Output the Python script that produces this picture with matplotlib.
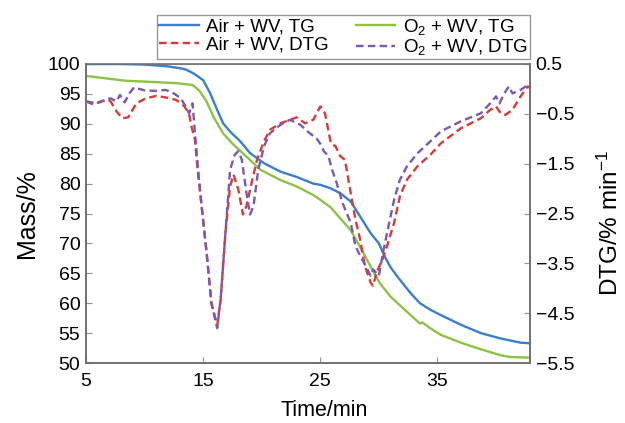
import matplotlib
matplotlib.use("Agg")
import matplotlib.pyplot as plt

plt.rcParams['font.family'] = ['Liberation Sans', 'DejaVu Sans']
plt.rcParams['mathtext.fontset'] = 'custom'
plt.rcParams['mathtext.rm'] = 'Liberation Sans'
plt.rcParams['mathtext.it'] = 'Liberation Sans:italic'
plt.rcParams['axes.unicode_minus'] = True

# ---- data ----
air_tg_t = [5.0, 8.0, 10.1, 12.0, 13.0, 13.5, 14.2, 15.0, 15.6, 16.2, 16.7, 17.3, 18.2, 19.0,
            20.2, 21.6, 23.0, 24.4, 25.0, 25.9, 26.7, 27.6, 28.4, 29.3, 30.0, 30.5, 31.0,
            31.6, 32.7, 33.5, 34.4, 35.3, 37.0, 38.7, 40.4, 42.1, 42.9]
air_tg = [100.0, 100.0, 99.9, 99.6, 99.3, 99.1, 98.4, 97.3, 95.1, 92.3, 90.1, 88.7, 87.0, 85.1,
          83.4, 82.0, 81.1, 80.0, 79.8, 79.2, 78.4, 77.0, 74.5, 71.7, 70.0, 67.8, 66.0,
          64.4, 61.7, 60.0, 58.9, 58.0, 56.4, 55.0, 54.1, 53.4, 53.3]

o2_tg_t = [5.0, 6.7, 8.4, 10.7, 12.7, 14.1, 14.7, 15.3, 15.9, 16.7, 17.6, 18.7, 19.9, 21.6,
           23.0, 24.4, 25.0, 25.9, 26.7, 27.6, 28.4, 29.3, 30.1, 31.0, 32.1, 33.0, 33.5,
           33.7, 34.4, 35.3, 37.0, 38.7, 40.4, 41.2, 42.9]
o2_tg = [98.0, 97.6, 97.2, 97.0, 96.8, 96.5, 95.5, 93.7, 91.1, 88.4, 86.5, 84.5, 82.3, 80.6,
         79.5, 78.1, 77.3, 76.0, 74.2, 72.2, 69.4, 66.1, 63.3, 61.1, 59.1, 57.5, 56.6,
         56.8, 55.8, 54.7, 53.4, 52.3, 51.3, 51.0, 50.9]

air_dtg_t = [5.0, 5.9, 6.7, 7.1, 7.6, 8.1, 8.6, 9.3, 10.1, 11.0, 11.8, 12.7, 13.4, 13.8, 14.0,
             14.3, 14.5, 14.9, 15.3, 15.7, 16.2, 16.5, 16.9, 17.3, 17.6, 18.0, 18.4, 18.7,
             19.2, 19.6, 20.2, 20.7, 21.6, 22.4, 23.0, 23.7, 24.4, 25.0, 25.4, 25.9, 26.3,
             26.7, 27.1, 27.6, 28.0, 28.4, 28.8, 29.3, 29.5, 29.8, 30.3, 30.7, 31.3, 31.8,
             32.4, 33.3, 34.4, 35.3, 37.0, 38.7, 39.5, 40.0, 40.4, 40.8, 41.4, 42.1, 42.7, 42.9]
air_dtg = [-0.25, -0.29, -0.22, -0.25, -0.45, -0.59, -0.57, -0.29, -0.19, -0.14, -0.17, -0.22,
           -0.35, -0.50, -0.75, -1.02, -1.55, -2.42, -3.29, -4.29, -4.75, -4.22, -2.89, -1.95,
           -1.72, -2.02, -2.52, -2.35, -1.82, -1.42, -1.05, -0.82, -0.69, -0.62, -0.57, -0.69,
           -0.62, -0.35, -0.49, -1.09, -1.15, -1.35, -1.42, -2.09, -2.62, -3.02, -3.55, -3.89,
           -3.95, -3.69, -3.42, -3.15, -2.69, -2.15, -1.82, -1.55, -1.32, -1.09, -0.79, -0.59,
           -0.42, -0.35, -0.49, -0.52, -0.42, -0.15, 0.05, 0.02]

o2_dtg_t = [5.0, 5.6, 6.3, 7.1, 7.6, 7.9, 8.3, 8.7, 9.1, 10.0, 11.0, 11.8, 12.5, 13.1, 13.5,
            13.8, 14.1, 14.3, 14.6, 14.9, 15.3, 15.7, 16.2, 16.5, 16.9, 17.3, 17.7, 18.0,
            18.3, 18.7, 19.0, 19.3, 19.7, 20.2, 20.7, 21.6, 22.4, 23.3, 23.9, 24.7, 25.0,
            25.3, 25.7, 26.0, 26.4, 26.9, 27.6, 28.0, 28.4, 28.8, 29.3, 29.5, 30.0, 30.3,
            30.7, 31.3, 31.8, 32.4, 33.3, 34.4, 35.3, 37.0, 38.7, 39.5, 40.0, 40.3, 40.7,
            41.1, 41.4, 42.1, 42.7]
o2_dtg = [-0.25, -0.31, -0.25, -0.19, -0.25, -0.12, -0.27, -0.09, 0.03, -0.03, -0.04, -0.02,
          -0.09, -0.19, -0.35, -0.49, -0.29, -0.89, -1.70, -2.42, -3.30, -4.30, -4.80, -4.20,
          -2.90, -1.62, -1.32, -1.25, -1.42, -2.09, -2.52, -2.35, -1.62, -1.15, -0.89, -0.72,
          -0.62, -0.72, -0.85, -1.00, -1.10, -1.25, -1.35, -1.62, -1.89, -2.29, -2.69, -3.15,
          -3.35, -3.52, -3.75, -3.62, -3.75, -3.35, -2.89, -2.22, -1.82, -1.55, -1.29, -1.05,
          -0.85, -0.65, -0.49, -0.29, -0.15, -0.29, -0.09, 0.05, -0.09, -0.02, 0.08]

x_ticks = [5, 15, 25, 35]
mass_ticks = [50, 55, 60, 65, 70, 75, 80, 85, 90, 95, 100]
dtg_ticks = [0.5, -0.5, -1.5, -2.5, -3.5, -4.5, -5.5]

labels = ["Air + WV, TG", "Air + WV, DTG", "O$_2$ + WV, TG", "O$_2$ + WV, DTG"]

c_blue = '#3b7ecb'
c_green = '#8dc343'
c_red = '#d63a3a'
c_purple = '#7b58b4'
spine_c = '#707070'

fig = plt.figure(figsize=(6.25, 4.23), dpi=100)
ax = fig.add_axes([0.1376, 0.1418, 0.848 - 0.1376, 0.8487 - 0.1418])
ax2 = ax.twinx()

l1, = ax.plot(air_tg_t, air_tg, color=c_blue, lw=1.7, zorder=3)
l3, = ax.plot(o2_tg_t, o2_tg, color=c_green, lw=1.7, zorder=2)
dash = (0, (3.2, 1.8))
l2, = ax2.plot(air_dtg_t, air_dtg, color=c_red, lw=1.7, linestyle=dash)
l4, = ax2.plot(o2_dtg_t, o2_dtg, color=c_purple, lw=1.7, linestyle=dash)

ax.set_xlim(5, 42.9)
ax.set_ylim(50, 100)
ax2.set_ylim(-5.5, 0.5)
ax.set_xticks(x_ticks)
ax.set_yticks(mass_ticks)
ax2.set_yticks(dtg_ticks)
ax2.set_yticklabels([f"{v:.1f}".replace('-', '\u2212') for v in dtg_ticks])

for a in (ax, ax2):
    for s in a.spines.values():
        s.set_color(spine_c)
        s.set_linewidth(1.2)
    a.tick_params(direction='in', length=4, width=0.8, color='#909090',
                  labelsize=14, pad=4, labelcolor='black')
ax.tick_params(axis='x', pad=7)
ax.spines['top'].set_color('#b0b0b0')
ax.spines['top'].set_linewidth(0.8)

ax.set_xlabel("Time/min", fontsize=15.5)
ax.xaxis.set_label_coords(0.536, -0.125)
ax.set_ylabel("Mass/%", fontsize=18, labelpad=6)
ax2.set_ylabel("DTG/% min$^{-1}$", fontsize=17.5)
ax2.yaxis.set_label_coords(1.152, 0.47)

x0, x1 = 157 / 625, 530 / 625
y0, y1 = 1 - 60 / 423, 1 - 14 / 423
leg = fig.legend([l1, l2, l3, l4], labels, ncol=2, loc='center',
                 bbox_to_anchor=(x0, y0, x1 - x0, y1 - y0), mode='expand',
                 fontsize=13.5, frameon=True, fancybox=False, borderaxespad=0,
                 handlelength=2.1, handletextpad=0.4, columnspacing=0.6,
                 labelspacing=0.02, borderpad=0.12)
leg.get_frame().set_edgecolor('#808080')
leg.get_frame().set_linewidth(1.0)

fig.savefig("out.png", dpi=100)
